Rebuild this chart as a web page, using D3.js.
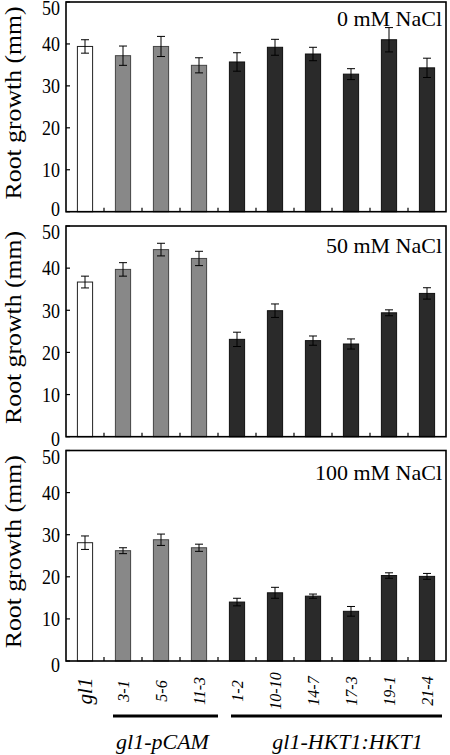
<!DOCTYPE html>
<html>
<head>
<meta charset="utf-8">
<script src="https://cdn.jsdelivr.net/npm/d3@7"></script>
<style>
  html, body { margin: 0; padding: 0; background: #fff; }
  svg { display: block; }
  text { font-family: "Liberation Serif", "Times New Roman", serif; fill: #000; }
</style>
</head>
<body>
<svg id="chart" width="450" height="755"></svg>
<script>
// ---- data ----
const categories = ["gl1", "3-1", "5-6", "11-3", "1-2", "10-10", "14-7", "17-3", "19-1", "21-4"];
const groups = ["control", "pCAM", "pCAM", "pCAM", "HKT1", "HKT1", "HKT1", "HKT1", "HKT1", "HKT1"];
const conditions = ["0 mM NaCl", "50 mM NaCl", "100 mM NaCl"];
const values0 = [39.4, 37.2, 39.4, 34.9, 35.7, 39.2, 37.6, 32.8, 41.0, 34.3];
const errors0 = [1.6, 2.3, 2.4, 1.8, 2.2, 1.9, 1.6, 1.3, 2.9, 2.3];
const values50 = [36.7, 39.7, 44.4, 42.3, 23.1, 29.9, 22.8, 22.0, 29.4, 34.0];
const errors50 = [1.4, 1.6, 1.5, 1.7, 1.7, 1.6, 1.1, 1.2, 0.7, 1.35];
const values100 = [28.1, 26.2, 28.8, 26.9, 14.0, 16.2, 15.4, 11.8, 20.3, 20.1];
const errors100 = [1.6, 0.7, 1.35, 0.85, 0.9, 1.3, 0.5, 1.15, 0.65, 0.7];
const yTicks = [0, 10, 20, 30, 40, 50];
const groupLabels = ["gl1-pCAM", "gl1-HKT1:HKT1"];
const yLabel = "Root growth (mm)";

const seriesValues = [values0, values50, values100];
const seriesErrors = [errors0, errors50, errors100];

// ---- layout ----
const svg = d3.select("#chart");
const left = 66, right = 446;
const panelTops = [2, 226, 450.5];
const panelBottoms = [211.7, 436.7, 661];
const labelOffsets = [24, 27, 29];
const zeroShift = [-3, 2, 4];
const fillFor = { control: "#ffffff", pCAM: "#888888", HKT1: "#2a2a2a" };
const strokeFor = { control: "#222", pCAM: "#444", HKT1: "#111" };

const x = d3.scaleBand().domain(categories).range([left, right])
  .paddingInner(0.6).paddingOuter(0.3);

conditions.forEach((cond, p) => {
  const y = d3.scaleLinear().domain([0, 50]).range([panelBottoms[p], panelTops[p]]);
  const g = svg.append("g");
  const vals = seriesValues[p], errs = seriesErrors[p];

  // bars
  g.selectAll("rect.bar").data(categories).join("rect")
    .attr("class", "bar")
    .attr("x", d => x(d))
    .attr("width", x.bandwidth())
    .attr("y", (d, i) => y(vals[i]))
    .attr("height", (d, i) => y(0) - y(vals[i]))
    .attr("fill", (d, i) => fillFor[groups[i]])
    .attr("stroke", (d, i) => strokeFor[groups[i]])
    .attr("stroke-width", 1);

  // error bars
  const cap = 4;
  categories.forEach((c, i) => {
    const cx = x(c) + x.bandwidth() / 2;
    const y1 = y(vals[i] + errs[i]), y2 = y(vals[i] - errs[i]);
    g.append("line").attr("x1", cx).attr("x2", cx).attr("y1", y1).attr("y2", y2)
      .attr("stroke", "#000").attr("stroke-width", 1);
    [y1, y2].forEach(yy => g.append("line").attr("x1", cx - cap).attr("x2", cx + cap)
      .attr("y1", yy).attr("y2", yy).attr("stroke", "#000").attr("stroke-width", 1));
  });

  // frame
  g.append("rect").attr("x", left).attr("y", panelTops[p])
    .attr("width", right - left).attr("height", panelBottoms[p] - panelTops[p])
    .attr("fill", "none").attr("stroke", "#000").attr("stroke-width", 1.6);

  // y axis ticks (inward) and labels
  yTicks.forEach(t => {
    g.append("line").attr("x1", left).attr("x2", left + 4)
      .attr("y1", y(t)).attr("y2", y(t)).attr("stroke", "#000").attr("stroke-width", 1.2);
    const shift = t === 50 ? 6 : (t === 0 ? zeroShift[p] : 0);
    g.append("text")
      .attr("transform", `translate(${left - 6},${y(t) + shift}) scale(1,1.15)`)
      .attr("text-anchor", "end").attr("dy", "0.35em")
      .style("font-size", "18px").text(t);
  });

  // x ticks at band boundaries (inward)
  for (let i = 1; i < categories.length; i++) {
    const bx = left + x.step() * i;
    g.append("line").attr("x1", bx).attr("x2", bx)
      .attr("y1", y(0)).attr("y2", y(0) - 4).attr("stroke", "#000").attr("stroke-width", 1.2);
  }

  // condition label
  g.append("text").attr("x", 442).attr("y", panelTops[p] + labelOffsets[p])
    .attr("text-anchor", "end").style("font-size", "22px").text(cond);

  // y label
  const cy = (panelTops[p] + panelBottoms[p]) / 2 - 4;
  g.append("text")
    .attr("transform", `translate(21,${cy}) rotate(-90) scale(1.12,1)`)
    .attr("text-anchor", "middle")
    .style("font-size", "23px").text(yLabel);
});

// x category labels (rotated, italic)
svg.selectAll("text.xlab").data(categories).join("text")
  .attr("class", "xlab")
  .attr("transform", d => `translate(${x(d) + x.bandwidth() / 2},691) rotate(-90)`)
  .attr("text-anchor", "middle").attr("dy", "0.35em")
  .style("font-style", "italic")
  .style("font-size", (d, i) => i === 0 ? "21px" : "16px")
  .text(d => d);

// group lines & labels
const gStart = [left + x.step() * 1 + 9, left + x.step() * 4 + 13];
const gEnd = [left + x.step() * 4, right - 4];
const labShift = [-3, 11];
groupLabels.forEach((lab, k) => {
  svg.append("line").attr("x1", gStart[k]).attr("x2", gEnd[k])
    .attr("y1", 716).attr("y2", 716).attr("stroke", "#000").attr("stroke-width", 3);
  svg.append("text").attr("x", (gStart[k] + gEnd[k]) / 2 + labShift[k]).attr("y", 749)
    .attr("text-anchor", "middle").style("font-style", "italic")
    .style("font-size", "22px").text(lab);
});
</script>
</body>
</html>
